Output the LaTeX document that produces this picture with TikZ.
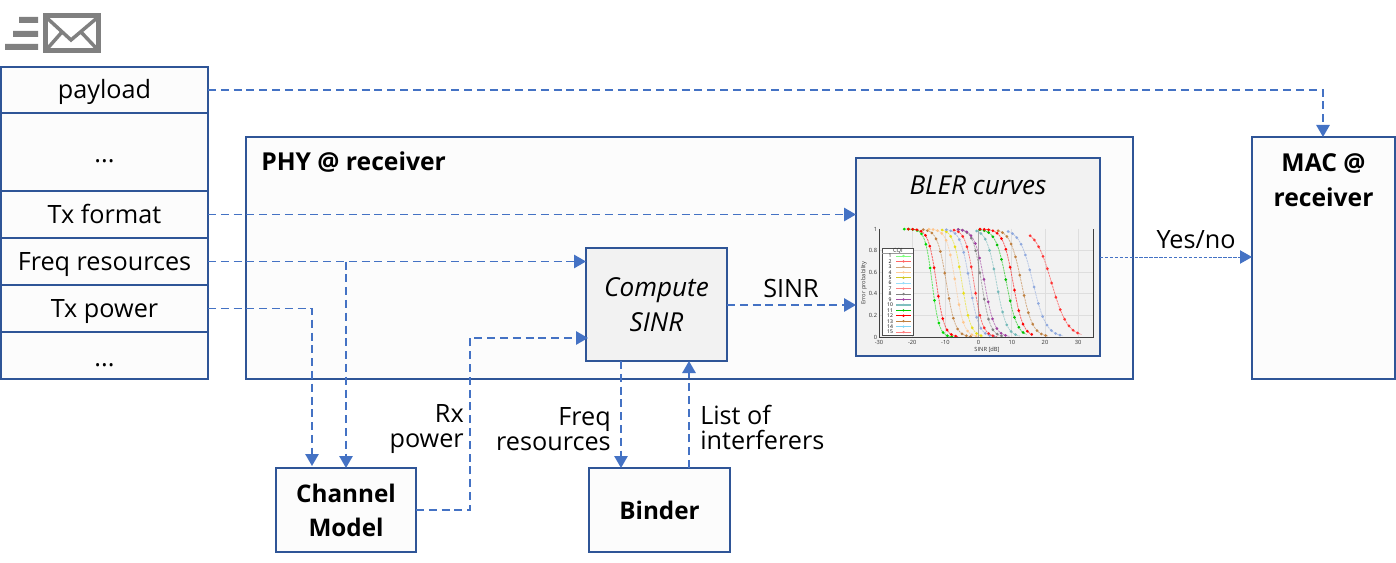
\documentclass[tikz,border=0pt]{standalone}
\usepackage{fontspec}
\setmainfont{Open Sans}
\usetikzlibrary{arrows.meta}
\definecolor{boxblue}{HTML}{2F5597}
\definecolor{linkblue}{HTML}{4472C4}
\definecolor{panelgray}{HTML}{F2F2F2}
\definecolor{icongray}{HTML}{808080}
\newcommand{\bx}[7]{\node[#6,minimum width={(#4-#2)*0.75pt},minimum height={(#5-#3)*0.75pt}] (#1) at ({(#2+#4)/2},{(#3+#5)/2}) {#7};}
\pgfmathdeclarefunction{logi}{1}{\pgfmathparse{108/(1+exp(max(-8,min(8,#1))))}}
% mid, scale, colour, first offset, last offset
\newcommand{\blercurve}[5]{%
  \draw[#3,opacity=0.6,line width=0.6pt,dash pattern=on 1.6pt off 0.6pt] plot[domain={(#1)+(#4)}:{(#1)+(#5)},samples=40] ({879+(\x+30)*3.32},{337-logi((\x-(#1))/(#2))});
  \pgfmathsetmacro{\stepb}{(#4)+1.3}
  \foreach \dd in {#4,\stepb,...,#5}{\fill[#3] ({879+((#1)+\dd+30)*3.32},{337-logi(\dd/(#2))}) circle (1.5);}
}
\tikzset{
  x=0.75pt,y=-0.75pt,
  box/.style={draw=boxblue,line width=1.5pt,fill=black!1,inner sep=0pt,outer sep=0pt,align=center,text=black},
  rowbox/.style={box,font=\fontsize{18.9}{19}\selectfont,text height=18pt,text depth=5.2pt},
  titlebox/.style={box,font=\fontsize{18.2}{25.5}\selectfont\bfseries},
  link/.style={draw=linkblue,line width=1.35pt,dash pattern=on 6pt off 3.6pt,-{Triangle[length=9pt,width=10pt]}},
  lab/.style={font=\fontsize{18.9}{18.75}\selectfont,inner sep=0pt,text=black},
  bigital/.style={font=\fontsize{19.6}{26}\selectfont\itshape,inner sep=0pt,align=center},
  tick/.style={font=\fontsize{4.3}{4.5}\selectfont,inner sep=0pt,text=black!80},
}
\begin{document}
\begin{tikzpicture}
\useasboundingbox (0,0) rectangle (1396,563);
% icon
\fill[icongray] (19,17) rectangle (38,23) (13,31) rectangle (38,37) (5,44) rectangle (38,50);
\draw[icongray,line width=3.8pt,fill=white] (45.5,15.5) rectangle (98.5,50.5);
\draw[icongray,line width=2.6pt] (47,18) -- (71,40) -- (97,18) (47,49) -- (62,32) (97,49) -- (81,32);
% message stack
\bx{payload}{1}{67}{208}{113}{rowbox}{payload}
\bx{dotsa}{1}{113}{208}{191}{rowbox}{\raisebox{-1.5pt}{...}}
\bx{txformat}{1}{191}{208}{238}{rowbox}{Tx format}
\bx{freqres}{1}{238}{208}{285}{rowbox}{Freq resources}
\bx{txpower}{1}{285}{208}{332}{rowbox}{Tx power}
\bx{dotsb}{1}{332}{208}{379}{rowbox}{\raisebox{-1.5pt}{...}}
% main boxes
\bx{phy}{246}{137}{1133}{379}{box}{}
\node[anchor=west,inner sep=0pt,font=\fontsize{18.5}{19}\selectfont\bfseries] (phytitle) at (261,162) {PHY @ receiver};
\bx{mac}{1252}{137}{1395}{379}{box}{}
\node[inner sep=0pt,align=center,font=\fontsize{18.5}{26}\selectfont\bfseries] (mactitle) at (1323.5,180) {MAC @\\receiver};
\bx{bler}{856}{158}{1100}{356}{box,fill=panelgray}{}
\node[bigital] (blertitle) at (978,185) {BLER curves};
\bx{compute}{586}{248}{727}{361}{box,fill=panelgray,font=\fontsize{19.6}{26}\selectfont\itshape}{\raisebox{-0.7pt}{Compute}\\\raisebox{-0.7pt}{SINR}}
\bx{channel}{276}{468}{416}{552}{titlebox}{Channel\\Model}
\bx{binder}{589}{468}{730}{552}{titlebox}{Binder}
% plot
\draw[black!13,line width=0.5pt] (879,250.6) -- (1093,250.6) (879,272.2) -- (1093,272.2) (879,293.8) -- (1093,293.8) (879,315.4) -- (1093,315.4);
\foreach \v in {-20,-10,10,20,30}{\draw[black!13,line width=0.5pt] ({879+(\v+30)*3.32},229) -- ({879+(\v+30)*3.32},337);}
\draw[black!35,line width=0.5pt] ({879+30*3.32},229) -- ({879+30*3.32},337);
\blercurve{-14}{1.05}{green!85!black}{-8.4}{6.5}
\blercurve{-12.7}{1.2}{red}{-8.5}{6.5}
\blercurve{-9.7}{1.35}{brown}{-7}{7.5}
\blercurve{-7}{1.3}{orange!45}{-8}{6.5}
\blercurve{-5}{1.3}{yellow!90!black}{-6}{6.5}
\blercurve{-2.7}{1.4}{cyan!45!blue!45}{-7}{8}
\blercurve{-1.4}{1.3}{red!85}{-6}{7}
\blercurve{0.9}{1.3}{gray}{-7}{6.5}
\blercurve{1.8}{1.5}{violet!75}{-8}{7.5}
\blercurve{5.4}{1.5}{teal!55}{-6}{7}
\blercurve{8.4}{1.6}{green!75!black}{-8}{6}
\blercurve{10.4}{1.5}{red}{-10}{6}
\blercurve{12.9}{1.7}{brown}{-7}{8}
\blercurve{16.4}{2}{cyan!45!blue!45}{-7.5}{9}
\blercurve{22}{2.4}{red!80}{-6.5}{9}
\draw[black!75,line width=0.45pt] (879,229) -- (879,337) -- (1093,337) -- (1093,229);
\node[tick] (yt0) at (875.5,337) {0};
\node[tick] (yt1) at (873,315.4) {0.2};
\node[tick] (yt2) at (873,293.8) {0.4};
\node[tick] (yt3) at (873,272.2) {0.6};
\node[tick] (yt4) at (873,250.6) {0.8};
\node[tick] (yt5) at (875.5,229) {1};
\foreach \v in {-30,-20,-10,0,10,20,30}{\node[tick] at ({879+(\v+30)*3.32},342.5) {\v};}
\node[tick] (xlab) at (987,349.5) {SINR [dB]};
\node[tick,rotate=90] (ylab) at (864,283) {Error probability};
\draw[black!70,line width=0.3pt,fill=white] (882,248) rectangle (913,335);
\draw[black!40,line width=0.3pt] (882,253) -- (913,253);
\node[tick] (cqi) at (898,250.5) {CQI};
\foreach \n/\c/\w in {1/green!50/0.5,2/red!60/0.5,3/brown!70/0.5,4/orange!40/0.5,5/yellow!80!black/0.5,6/cyan!40/0.5,7/red!50/0.5,8/gray/0.5,9/violet!70/0.5,10/teal!50/1,11/green!80!black/0.8,12/red/1,13/brown/0.6,14/cyan!50/0.5,15/red!50/0.5}{
  \node[font=\fontsize{3.8}{4}\selectfont,inner sep=0pt] at (890,{250.6+\n*5.43}) {\n};
  \draw[\c,line width=\w pt] (896,{250.6+\n*5.43}) -- (911,{250.6+\n*5.43});
  \fill[\c] (903.5,{250.6+\n*5.43}) circle (1.3);
}
% connectors
\coordinate (payx) at (1323,90);
\coordinate (txpx) at (312,400);
\coordinate (frqx) at (346,400);
\coordinate (rxx) at (470,400);
\coordinate (rxy) at (500,338);
\coordinate (chy) at (430,510);
\coordinate (txsy) at (500,305);
\coordinate (fdown) at (621,400);
\coordinate (fup) at (689,400);
\coordinate (blery) at (1150,257);
\draw[link] (payload.east) -- (payx) -- (payx |- mac.north);
\draw[link] (txformat.east) -- (txformat.east -| bler.west);
\draw[link] (freqres.east) -- (freqres.east -| compute.west);
\draw[link] (freqres.east -| frqx) -- (frqx |- channel.north);
\draw[link] (txpower.east) -- (txpower.east -| txpx) -- ([yshift=1.5pt]txpx |- channel.north);
\draw[link,shorten >=-1.5pt] (chy -| channel.east) -- (chy -| rxx) -- (rxx |- rxy) -- (rxy -| compute.west);
\draw[link] (txsy -| compute.east) -- (txsy -| bler.west);
\draw[link] (fdown |- compute.south) -- (fdown |- binder.north);
\draw[link] (fup |- binder.north) -- (fup |- compute.south);
\draw[draw=linkblue,line width=0.7pt,dash pattern=on 2.5pt off 1.2pt,-{Triangle[length=9pt,width=10pt]}] (blery -| bler.east) -- (blery -| mac.west);
% labels
\node[lab] (sinrlab) at (791,288) {SINR};
\node[lab] (yesno) at (1196,240) {Yes/no};
\node[lab,anchor=east,align=right] (rxlab) at (464,429.5) {Rx\\power};
\node[lab,anchor=east,align=right] (freqlab) at (611,429.5) {Freq\\resources};
\node[lab,anchor=west,align=left] (listlab) at (700,427.5) {List of\\interferers};
\end{tikzpicture}
\end{document}
